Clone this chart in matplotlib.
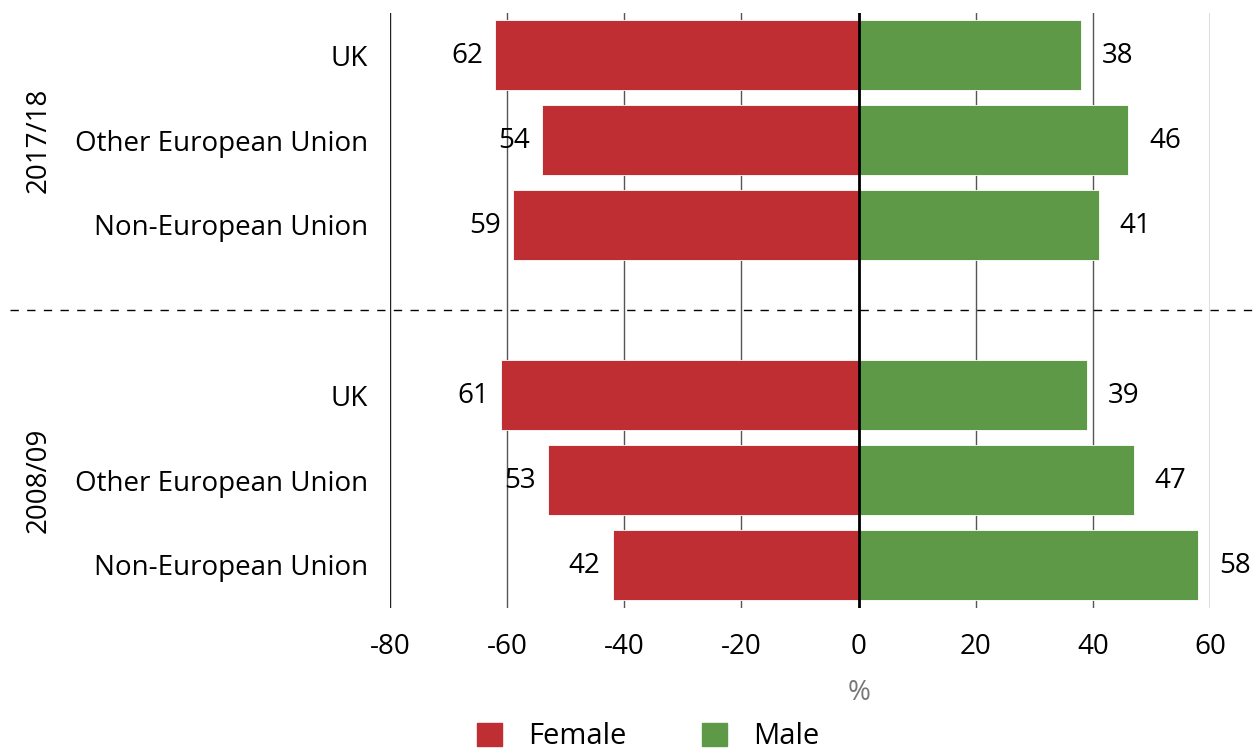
import numpy as np
import matplotlib.pyplot as plt
from matplotlib.transforms import blended_transform_factory
from matplotlib.patches import Patch

plt.rcParams["font.family"] = ["Open Sans", "DejaVu Sans"]
plt.rcParams["axes.unicode_minus"] = False

# data, rows from top to bottom
periods = ["2017/18", "2008/09"]
origins = ["UK", "Other European Union", "Non-European Union"]
female_2017 = [62, 54, 59]
male_2017 = [38, 46, 41]
female_2008 = [61, 53, 42]
male_2008 = [39, 47, 58]

female = female_2017 + female_2008
male = male_2017 + male_2008
labels = origins + origins
ypos = np.array([0, 1, 2, 4, 5, 6])

red = "#BE2E33"
green = "#5E9948"
fs = 20

fig = plt.figure(figsize=(12.58, 7.56), dpi=100)
ax = fig.add_axes([390 / 1258, 1 - 607.5 / 756, 820 / 1258, 595 / 756])

# vertical grid lines behind the bars
for x in range(-60, 60, 20):
    ax.axvline(x, color="#555555", lw=1, zorder=0)
ax.axvline(-80, color="#222222", lw=1, zorder=0)
ax.axvline(60, color="#555555", lw=1, zorder=0)

ax.barh(ypos, [-v for v in female], height=0.82, color=red,
        edgecolor="white", lw=0.6, zorder=2)
ax.barh(ypos, male, height=0.82, color=green,
        edgecolor="white", lw=0.6, zorder=2)
ax.axvline(0, color="black", lw=2, zorder=3)

for y, f, m in zip(ypos, female, male):
    ax.annotate(str(f), (-f, y), xytext=(-12, -1), textcoords="offset pixels",
                ha="right", va="center", fontsize=fs)
    ax.annotate(str(m), (m, y), xytext=(21, -1), textcoords="offset pixels",
                ha="left", va="center", fontsize=fs)

# dashed separator between the two periods
trans = blended_transform_factory(ax.transAxes, ax.transData)
ax.plot([-0.463, 1.06], [3, 3], transform=trans, color="black", lw=1,
        ls=(0, (6, 6)), clip_on=False, zorder=1)

# period labels
for label, yc in zip(periods, [1, 5]):
    ax.text(-0.428, yc, label, transform=trans, rotation=90, ha="center",
            va="center", fontsize=fs)

ax.set_xlim(-80, 60)
ax.set_ylim(6.5, -0.5)
ax.set_xticks(range(-80, 61, 20))
ax.set_yticks(ypos)
ax.set_yticklabels(labels)
ax.tick_params(length=0, labelsize=fs)
ax.tick_params(axis="x", pad=18)
ax.tick_params(axis="y", pad=16)
for s in ax.spines.values():
    s.set_visible(False)

ax.set_xlabel("%", color="#777777", fontsize=fs)
ax.xaxis.set_label_coords(80 / 140, -0.12)

handles = [Patch(color=red, label="Female"), Patch(color=green, label="Male")]
fig.legend(handles=handles, loc="center", bbox_to_anchor=(648 / 1258, 1 - 737 / 756),
           ncol=2, frameon=False, fontsize=fs + 1, handlelength=0.85, handleheight=0.85,
           columnspacing=2.6, handletextpad=0.9, borderaxespad=0, borderpad=0)

fig.savefig("out.png", dpi=100)
